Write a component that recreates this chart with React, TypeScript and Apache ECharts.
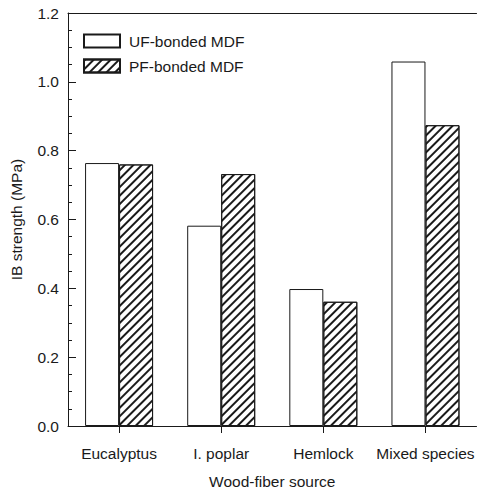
import React, { useEffect, useRef } from "react";
import * as echarts from "echarts";

const categories = ["Eucalyptus", "I. poplar", "Hemlock", "Mixed species"];
const ufValues = [0.764, 0.582, 0.398, 1.059];
const pfValues = [0.76, 0.732, 0.361, 0.874];
const seriesNames = ["UF-bonded MDF", "PF-bonded MDF"];

const FONT = "'Liberation Sans', Arial, Helvetica, sans-serif";
const INK = "#1a1a1a";

export default function App() {
  const ref = useRef<HTMLDivElement>(null);
  useEffect(() => {
    if (!ref.current) return;
    const chart = echarts.init(ref.current, undefined, { renderer: "svg" });
    const hatch = {
      symbol: "rect",
      symbolSize: 1,
      dashArrayX: [1, 0],
      dashArrayY: [1.8, 3.6],
      rotation: -Math.PI / 4,
      color: INK,
      backgroundColor: "#fff",
    };
    chart.setOption({
      animation: false,
      backgroundColor: "#fff",
      textStyle: { fontFamily: FONT },
      grid: { left: 64, right: 0, top: 13, bottom: 65, containLabel: false },
      legend: {
        orient: "vertical",
        left: 78,
        top: 28,
        itemWidth: 36,
        itemHeight: 13,
        itemGap: 9,
        icon: "rect",
        data: seriesNames,
        textStyle: { fontFamily: FONT, fontSize: 15.5, color: INK, padding: [0, 0, 0, 4] },
      },
      xAxis: [
        {
          type: "category",
          data: categories,
          position: "bottom",
          axisLine: { show: true, lineStyle: { color: INK, width: 1 } },
          axisTick: { show: true, alignWithLabel: true, length: 7, lineStyle: { color: INK } },
          axisLabel: { fontFamily: FONT, fontSize: 15.5, color: INK, margin: 19, interval: 0 },
          name: "Wood-fiber source",
          nameLocation: "middle",
          nameGap: 47,
          nameTextStyle: { fontFamily: FONT, fontSize: 15.5, color: INK },
        },
        {
          type: "category",
          data: categories,
          position: "top",
          axisLine: { show: true, lineStyle: { color: INK, width: 1 } },
          axisTick: { show: false },
          axisLabel: { show: false },
        },
      ],
      yAxis: {
        type: "value",
        min: 0,
        max: 1.2,
        interval: 0.2,
        axisLine: { show: true, lineStyle: { color: INK, width: 1 } },
        axisTick: { show: true, inside: true, length: 8, lineStyle: { color: INK } },
        minorTick: { show: true, splitNumber: 4, length: 4, lineStyle: { color: INK } },
        splitLine: { show: false },
        axisLabel: {
          fontFamily: FONT,
          fontSize: 15.5,
          color: INK,
          margin: 9,
          formatter: (v: number) => v.toFixed(1),
        },
        name: "IB strength (MPa)",
        nameLocation: "middle",
        nameGap: 44,
        nameRotate: 90,
        nameTextStyle: { fontFamily: FONT, fontSize: 15.5, color: INK },
      },
      series: [
        {
          name: seriesNames[0],
          type: "bar",
          data: ufValues,
          barWidth: 34,
          barGap: "0%",
          itemStyle: { color: "#fff", borderColor: INK, borderWidth: 1 },
        },
        {
          name: seriesNames[1],
          type: "bar",
          data: pfValues,
          barWidth: 34,
          barGap: "0%",
          itemStyle: { color: "#fff", borderColor: INK, borderWidth: 1, decal: hatch },
        },
      ],
    });
    return () => chart.dispose();
  }, []);
  return (
    <div
      ref={ref}
      style={{ position: "fixed", left: 0, top: 0, width: 477, height: 494 }}
    />
  );
}
